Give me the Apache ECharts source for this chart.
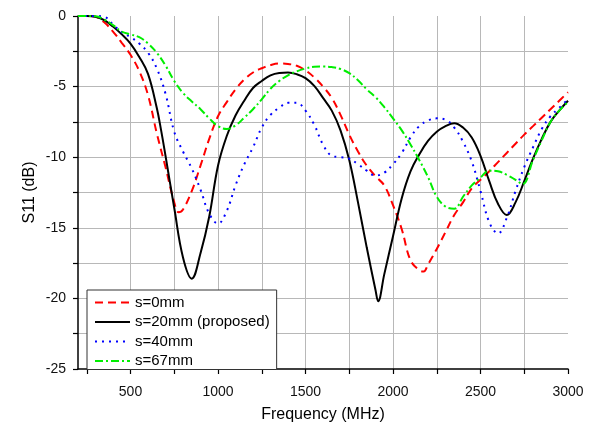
<!DOCTYPE html>
<html>
<head>
<meta charset="utf-8">
<script src="https://cdn.jsdelivr.net/npm/echarts@6/dist/echarts.min.js"></script>
<style>
html,body{margin:0;padding:0;background:#fff;}
#chart{width:593px;height:428px;}
</style>
</head>
<body>
<div id="chart"></div>
<script>
// ---- data ----
const seriesNames = ['s=0mm', 's=20mm (proposed)', 's=40mm', 's=67mm'];

const freqS0 = [200,250,300,350,400,450,500,550,600,650,700,750,775,800,850,900,950,1000,1050,1100,1150,1200,1250,1300,1350,1400,1450,1500,1550,1600,1650,1700,1750,1800,1850,1900,1950,2000,2050,2100,2150,2175,2200,2250,2300,2350,2400,2450,2500,2550,2600,2650,2700,2750,2800,2850,2900,2950,3000];
const s11S0 = [0,0,-0.05,-0.45,-1.1,-1.9,-2.75,-3.9,-5.6,-8.3,-10.7,-13.2,-13.9,-13.7,-12.4,-10.6,-8.7,-7.1,-6.1,-5.2,-4.5,-4.0,-3.7,-3.48,-3.37,-3.4,-3.52,-3.85,-4.35,-5.0,-5.8,-7.0,-8.4,-9.6,-10.6,-11.35,-12.0,-13.4,-15.1,-17.3,-18.0,-18.1,-17.6,-16.5,-15.3,-14.1,-13.2,-12.2,-11.6,-11.0,-10.35,-9.7,-9.05,-8.4,-7.8,-7.2,-6.6,-6.0,-5.4];

const freqS20 = [200,250,300,350,400,450,500,550,600,650,675,700,750,800,850,900,950,1000,1050,1100,1150,1200,1250,1300,1350,1400,1450,1500,1550,1600,1650,1700,1750,1800,1850,1900,1915,1950,2000,2050,2100,2150,2200,2250,2300,2350,2400,2450,2500,2550,2600,2650,2700,2750,2800,2850,2900,2950,3000];
const s11S20 = [0,0,-0.05,-0.3,-0.75,-1.3,-1.95,-2.9,-4.1,-6.5,-8.1,-9.9,-13.6,-17.1,-18.6,-16.8,-14.2,-10.6,-8.5,-7.05,-6.0,-5.1,-4.6,-4.2,-4.03,-4.0,-4.12,-4.4,-4.95,-5.8,-6.7,-8.1,-10.2,-13.2,-16.4,-19.4,-20.2,-18.3,-15.6,-12.9,-11.0,-9.8,-8.85,-8.2,-7.8,-7.6,-7.9,-8.6,-9.9,-11.7,-13.3,-14.1,-13.2,-11.7,-10.1,-8.7,-7.5,-6.7,-6.0];

const freqS40 = [200,250,300,350,400,450,500,550,600,650,700,750,800,850,900,950,1000,1050,1100,1150,1200,1250,1300,1350,1400,1450,1500,1550,1600,1650,1700,1750,1800,1850,1900,1950,2000,2050,2100,2150,2200,2250,2300,2350,2400,2450,2500,2550,2600,2650,2700,2750,2800,2850,2900,2950,3000];
const s11S40 = [0,0,0,-0.05,-0.6,-1.15,-1.5,-1.95,-2.6,-3.7,-5.5,-8.2,-9.6,-10.8,-12.3,-14.0,-14.7,-13.8,-12.0,-10.5,-9.3,-7.9,-7.0,-6.5,-6.15,-6.15,-6.7,-7.7,-9.1,-9.9,-10.0,-10.1,-10.5,-10.95,-11.3,-11.1,-10.5,-9.7,-8.6,-7.8,-7.4,-7.25,-7.35,-7.9,-8.9,-10.3,-12.4,-14.6,-15.4,-14.3,-12.4,-10.7,-9.3,-8.0,-7.1,-6.5,-5.9];

const freqS67 = [200,250,300,350,400,450,500,550,600,650,700,750,800,850,900,950,1000,1050,1100,1150,1200,1250,1300,1350,1400,1450,1500,1550,1600,1650,1700,1750,1800,1850,1900,1950,2000,2050,2100,2150,2200,2250,2300,2350,2400,2450,2500,2550,2600,2650,2700,2740,2800,2850,2900,2950,3000];
const s11S67 = [0,0,-0.02,-0.25,-0.65,-1.1,-1.3,-1.5,-1.95,-2.6,-3.5,-4.6,-5.45,-6.05,-6.6,-7.25,-7.8,-8.0,-7.75,-7.2,-6.6,-5.9,-5.15,-4.6,-4.2,-3.92,-3.72,-3.6,-3.58,-3.62,-3.75,-4.05,-4.55,-5.2,-5.75,-6.45,-7.25,-8.1,-9.1,-10.2,-11.4,-12.8,-13.5,-13.65,-12.8,-12.0,-11.45,-10.95,-11.0,-11.25,-11.6,-11.9,-10.2,-8.8,-7.5,-6.7,-6.1];

const xTickValues = [250,500,750,1000,1250,1500,1750,2000,2250,2500,2750,3000];
const xLabelValues = [500,1000,1500,2000,2500,3000];

function pairs(f, v) { return f.map((x, i) => [x, v[i]]); }

const chart = echarts.init(document.getElementById('chart'), null, {renderer: 'canvas'});
const font = 'Liberation Sans, Arial, sans-serif';
const gridColor = '#b8b8b8';

const option = {
  backgroundColor: '#ffffff',
  animation: false,
  grid: {left: 78, right: 25, top: 16, bottom: 54, containLabel: false},
  legend: {
    orient: 'vertical',
    left: 87, top: 290,
    itemWidth: 35, itemHeight: 14, itemGap: 4.5,
    padding: [5, 7, 1, 7],
    borderColor: '#333', borderWidth: 1,
    backgroundColor: '#fff',
    itemStyle: {opacity: 0},
    textStyle: {fontFamily: font, fontSize: 15, lineHeight: 14, color: '#000'},
    data: seriesNames
  },
  xAxis: {
    type: 'value', min: 200, max: 3000,
    name: 'Frequency (MHz)', nameLocation: 'middle', nameGap: 38, nameMoveOverlap: false,
    nameTextStyle: {fontFamily: font, fontSize: 16, color: '#000'},
    axisLine: {show: true, onZero: false, lineStyle: {color: '#000', width: 1.5}},
    axisTick: {show: true, inside: false, length: 5, customValues: xTickValues, lineStyle: {color: '#000', width: 1.2}},
    axisLabel: {customValues: xLabelValues, margin: 16, fontFamily: font, fontSize: 14, color: '#111',
      formatter: v => String(v)},
    splitLine: {show: true, showMinLine: false, showMaxLine: false, lineStyle: {color: gridColor, width: 1}}
  },
  yAxis: {
    type: 'value', min: -25, max: 0, interval: 2.5,
    name: 'S11 (dB)', nameLocation: 'middle', nameGap: 40, nameRotate: 90, nameMoveOverlap: false,
    nameTextStyle: {fontFamily: font, fontSize: 16, color: '#000'},
    axisLine: {show: true, onZero: false, lineStyle: {color: '#000', width: 1.5}},
    axisTick: {show: true, inside: false, length: 5, lineStyle: {color: '#000', width: 1.2}},
    axisLabel: {margin: 12, fontFamily: font, fontSize: 14, color: '#111',
      formatter: v => (Math.abs(v % 5) < 1e-9 ? String(v) : '')},
    splitLine: {show: true, showMinLine: false, showMaxLine: false, lineStyle: {color: gridColor, width: 1}}
  },
  series: [
    {name: seriesNames[0], type: 'line', data: pairs(freqS0, s11S0), smooth: 0.4, symbol: 'none',
     lineStyle: {color: '#ff0000', width: 2, type: [8, 5]}, itemStyle: {color: '#ff0000'}},
    {name: seriesNames[1], type: 'line', data: pairs(freqS20, s11S20), smooth: 0.4, symbol: 'none',
     lineStyle: {color: '#000000', width: 2, type: 'solid'}, itemStyle: {color: '#000000'}},
    {name: seriesNames[2], type: 'line', data: pairs(freqS40, s11S40), smooth: 0.4, symbol: 'none',
     lineStyle: {color: '#0000ff', width: 2, type: [2, 5]}, itemStyle: {color: '#0000ff'}},
    {name: seriesNames[3], type: 'line', data: pairs(freqS67, s11S67), smooth: 0.4, symbol: 'none',
     lineStyle: {color: '#00ee00', width: 2, type: [8, 3, 2, 3]}, itemStyle: {color: '#00ee00'}}
  ]
};
chart.setOption(option);
</script>
</body>
</html>
